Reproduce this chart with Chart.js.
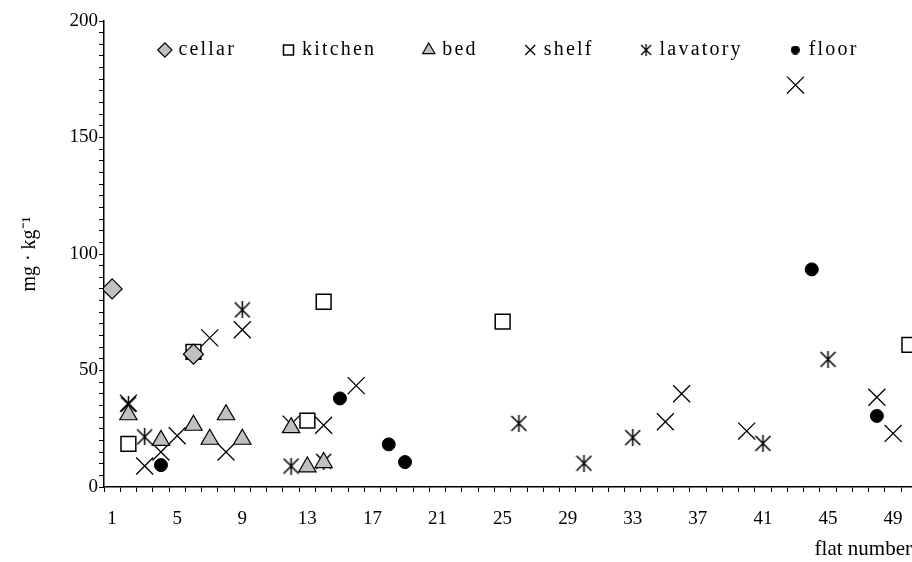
<!DOCTYPE html>
<html>
<head>
<meta charset="utf-8">
<script src="https://cdn.jsdelivr.net/npm/chart.js@4/dist/chart.umd.min.js"></script>
<style>
  html, body { margin: 0; padding: 0; background: #fff; overflow: hidden; }
</style>
</head>
<body>
<canvas id="my-chart" width="912" height="562"></canvas>
<script>
// tick labels shown on the flat axis
const flatLabels = [1, 5, 9, 13, 17, 21, 25, 29, 33, 37, 41, 45, 49];

// [flat number, mg/kg]
const cellar = [[1, 85], [6, 57]];
const kitchen = [[2, 18.5], [6, 58], [13, 28.5], [14, 79.5], [25, 71], [50, 61]];
const bed = [[2, 31], [4, 20], [6, 26.5], [7, 20.5], [8, 31], [9, 20.5], [12, 25.5], [13, 8.6], [14, 10.5]];
const shelf = [[2, 36], [3, 9], [4, 15], [5, 22], [7, 64], [8, 15], [9, 67.5], [12, 27], [14, 26.5], [16, 43.5],
               [35, 28], [36, 40], [40, 24], [43, 172.5], [48, 38.5], [49, 23]];
const lavatory = [[2, 35.5], [3, 21.5], [9, 76], [12, 9], [14, 11], [26, 27.3], [30, 10.2], [33, 21.2], [41, 18.7], [45, 54.8]];
const floor = [[4, 9.4], [15, 38], [18, 18.3], [19, 10.7], [44, 93.4], [48, 30.5]];

const FONT = "'Liberation Serif', 'Times New Roman', serif";
Chart.defaults.font.family = FONT;
Chart.defaults.color = '#000';

const toXY = pts => pts.map(p => ({ x: p[0], y: p[1] }));

// six-armed asterisk marker (x plus a vertical stroke)
function asterisk(size, lw) {
    const c = document.createElement('canvas');
    c.width = size; c.height = size;
    const g = c.getContext('2d');
    g.strokeStyle = '#000';
    g.lineWidth = lw;
    g.beginPath();
    g.moveTo(1, 1); g.lineTo(size - 1, size - 1);
    g.moveTo(size - 1, 1); g.lineTo(1, size - 1);
    g.moveTo(size / 2, 0); g.lineTo(size / 2, size);
    g.stroke();
    return c;
}

// small black dot for the legend
function dot(size) {
    const c = document.createElement('canvas');
    c.width = size; c.height = size;
    const g = c.getContext('2d');
    g.fillStyle = '#000';
    g.beginPath();
    g.arc(size / 2, size / 2, size / 2, 0, Math.PI * 2);
    g.fill();
    return c;
}

// keep the legend out of the layout and put it inside the plot, near the top
const legendInPlot = {
    id: 'legendInPlot',
    afterLayout(chart) {
        const lg = chart.legend;
        lg.top = 50 - 49 - 10;
        lg.height = 100;
        lg.bottom = lg.top + 100;
        lg.left += 2;
        lg.right += 2;
    }
};

const chart = new Chart(document.getElementById('my-chart'), {
    type: 'scatter',
    data: {
        datasets: [
            { label: 'cellar', data: toXY(cellar), pointStyle: 'rectRot', pointRadius: 10,
              backgroundColor: '#c0c0c0', borderColor: '#000', borderWidth: 1.2 },
            { label: 'kitchen', data: toXY(kitchen), pointStyle: 'rect', pointRadius: 10.5,
              backgroundColor: '#fff', borderColor: '#000', borderWidth: 1.5 },
            { label: 'bed', data: toXY(bed), pointStyle: 'triangle', pointRadius: 10,
              backgroundColor: '#c0c0c0', borderColor: '#000', borderWidth: 1.2 },
            { label: 'shelf', data: toXY(shelf), pointStyle: 'crossRot', pointRadius: 12,
              backgroundColor: '#000', borderColor: '#000', borderWidth: 1.3 },
            { label: 'lavatory', data: toXY(lavatory), pointStyle: asterisk(17, 1.5), pointRadius: 9,
              backgroundColor: '#000', borderColor: '#000', borderWidth: 1.3 },
            { label: 'floor', data: toXY(floor), pointStyle: 'circle', pointRadius: 6.5,
              backgroundColor: '#000', borderColor: '#000', borderWidth: 1 }
        ]
    },
    options: {
        responsive: false,
        animation: false,
        layout: { autoPadding: false, padding: { top: 21, right: 0, bottom: 0, left: 0 } },
        plugins: {
            tooltip: { enabled: false },
            legend: {
                position: 'top',
                fullSize: false,
                labels: {
                    usePointStyle: true,
                    boxWidth: 7,
                    boxHeight: 10,
                    padding: 49,
                    color: '#000',
                    font: { family: FONT, size: 20 },
                    generateLabels(ch) {
                        const items = Chart.defaults.plugins.legend.labels.generateLabels(ch);
                        items.forEach(it => {
                            if (it.text === 'lavatory') it.pointStyle = asterisk(12, 1.3);
                            if (it.text === 'floor') it.pointStyle = dot(9);
                        });
                        return items;
                    }
                }
            }
        },
        scales: {
            x: {
                type: 'linear',
                min: 0.5,
                max: 50.16,
                afterBuildTicks(s) {
                    s.ticks = [];
                    for (let v = 0.5; v < 50.1; v++) s.ticks.push({ value: v });
                },
                afterFit(s) {
                    s.height = 75;
                    s.paddingLeft = 0;
                    s.paddingRight = 0;
                },
                ticks: {
                    autoSkip: false,
                    maxRotation: 0,
                    labelOffset: 8.1,
                    padding: 16,
                    color: '#000',
                    font: { family: FONT, size: 19 },
                    callback: v => flatLabels.includes(v + 0.5) ? String(v + 0.5) : ''
                },
                grid: { drawOnChartArea: false, tickLength: 5, color: '#000', tickWidth: 1 },
                border: { color: '#000', width: 1.5 },
                title: {
                    display: true, text: 'flat number', align: 'end', color: '#000',
                    font: { family: FONT, size: 21 }, padding: { top: 0, bottom: 0 }
                }
            },
            y: {
                min: 0,
                max: 200,
                afterBuildTicks(s) {
                    s.ticks = [];
                    for (let v = 0; v <= 200; v += 5) s.ticks.push({ value: v });
                },
                afterFit(s) { s.width = 104; },
                ticks: {
                    autoSkip: false,
                    padding: 1,
                    color: '#000',
                    font: { family: FONT, size: 19 },
                    callback: v => v % 50 === 0 ? String(v) : ''
                },
                grid: { drawOnChartArea: false, tickLength: 5, color: '#000', tickWidth: 1 },
                border: { color: '#000', width: 1.5 },
                title: {
                    display: true, text: 'mg · kg⁻¹', color: '#000',
                    font: { family: FONT, size: 20 }, padding: { top: 18, bottom: 0 }
                }
            }
        }
    },
    plugins: [legendInPlot]
});

// letter-spaced legend text, and the legend takes no room from the plot
const lg = chart.legend;
const origFit = lg.fit.bind(lg);
const origDraw = lg.draw.bind(lg);
lg.fit = function () {
    chart.ctx.save();
    chart.ctx.letterSpacing = '2.2px';
    origFit();
    chart.ctx.restore();
    this.height = 0;
};
lg.draw = function () {
    chart.ctx.save();
    chart.ctx.letterSpacing = '2.2px';
    origDraw();
    chart.ctx.restore();
};
chart.update();
</script>
</body>
</html>
